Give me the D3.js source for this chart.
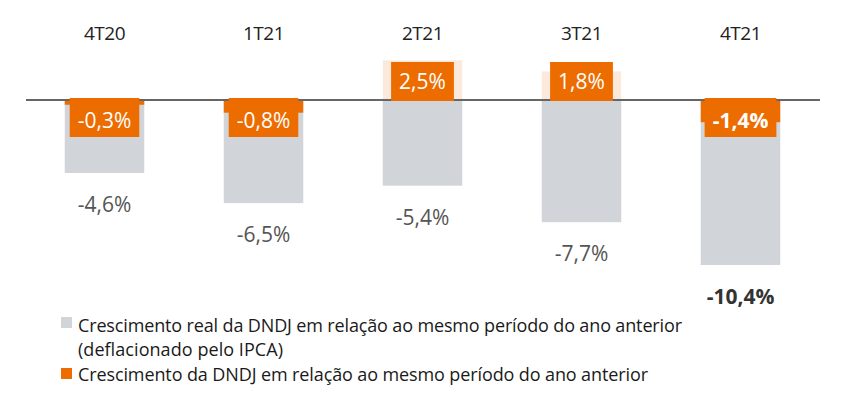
<!DOCTYPE html>
<html>
<head>
<meta charset="utf-8">
<script src="https://cdn.jsdelivr.net/npm/d3@7"></script>
<style>
  body { margin: 0; background: #fff; }
  text { font-family: "Open Sans", sans-serif; }
</style>
</head>
<body>
<svg id="viz" width="843" height="399"></svg>
<script>
// quarters and the two series (% growth)
const quarters = ["4T20", "1T21", "2T21", "3T21", "4T21"];
const realGrowth = [-4.6, -6.5, -5.4, -7.7, -10.4];
const nominalGrowth = [-0.3, -0.8, 2.5, 1.8, -1.4];
const legendLines = [
  "Crescimento real da DNDJ em relação ao mesmo período do ano anterior",
  "(deflacionado pelo IPCA)",
  "Crescimento da DNDJ em relação ao mesmo período do ano anterior"
];

const ORANGE = "#ec6c00", GRAY = "#d1d4d9";
const svg = d3.select("#viz");
const fmt = (v) => d3.format(".1f")(v).replace(".", ",").replace("−", "-") + "%";

const x = d3.scaleBand().domain(quarters).range([25, 820]).paddingInner(0.5).paddingOuter(0.25);
const y = d3.scaleLinear().domain([0, -10.4]).range([100, 265]);

const data = quarters.map((q, i) => ({ q, real: realGrowth[i], nom: nominalGrowth[i], last: i === quarters.length - 1 }));

// gray bars
svg.selectAll(".bar").data(data).enter().append("rect")
  .attr("x", d => x(d.q))
  .attr("width", x.bandwidth())
  .attr("y", y(0))
  .attr("height", d => y(d.real) - y(0))
  .attr("fill", GRAY);

// orange bars (to scale)
svg.selectAll(".nbar").data(data).enter().append("rect")
  .attr("x", d => x(d.q))
  .attr("width", x.bandwidth())
  .attr("y", d => Math.min(y(0), y(d.nom)))
  .attr("height", d => Math.abs(y(d.nom) - y(0)))
  .attr("fill", d => d.nom > 0 ? "#fbeadc" : ORANGE);

// baseline
svg.append("line")
  .attr("x1", 26).attr("x2", 820)
  .attr("y1", y(0)).attr("y2", y(0))
  .attr("stroke", "#666").attr("stroke-width", 2);

// category labels on top
svg.selectAll(".cat").data(data).enter().append("text")
  .attr("x", d => x(d.q) + x.bandwidth() / 2)
  .attr("y", 40)
  .attr("text-anchor", "middle")
  .style("font-size", "19px")
  .style("letter-spacing", "-0.5px")
  .style("fill", "#222")
  .text(d => d.q);

// gray value labels below bars
svg.selectAll(".rl").data(data).enter().append("text")
  .attr("x", d => x(d.q) + x.bandwidth() / 2)
  .attr("y", d => y(d.real) + 39)
  .attr("text-anchor", "middle")
  .style("font-size", "21px")
  .style("font-weight", d => d.last ? "bold" : "normal")
  .style("fill", d => d.last ? "#333" : "#555")
  .text(d => fmt(d.real));

// orange label boxes
const boxes = svg.selectAll(".nl").data(data).enter().append("g");
boxes.append("text")
  .attr("x", d => x(d.q) + x.bandwidth() / 2)
  .attr("y", d => d.nom > 0 ? y(0) - 11 : y(0) + 28)
  .attr("text-anchor", "middle")
  .style("font-size", "21px")
  .style("font-weight", d => d.last ? "bold" : "normal")
  .style("fill", "#fff")
  .text(d => fmt(d.nom));
boxes.each(function (d) {
  const g = d3.select(this);
  const w = g.select("text").node().getBBox().width + 16;
  g.insert("rect", "text")
    .attr("x", x(d.q) + x.bandwidth() / 2 - w / 2)
    .attr("width", w)
    .attr("y", d.nom > 0 ? y(0) - 38 : y(0) - 2)
    .attr("height", 39)
    .attr("fill", ORANGE);
});

// legend
const legendY = [332, 356, 381];
const legendW = [604, 205, 570];
svg.selectAll(".lg").data(legendLines).enter().append("text")
  .attr("x", 78)
  .attr("y", (d, i) => legendY[i])
  .attr("textLength", (d, i) => legendW[i])
  .style("font-size", "18px")
  .style("fill", "#1a1a1a")
  .text(d => d);
svg.append("rect").attr("x", 61).attr("y", 317).attr("width", 11).attr("height", 11).attr("fill", GRAY);
svg.append("rect").attr("x", 61).attr("y", 368).attr("width", 11).attr("height", 11).attr("fill", ORANGE);
</script>
</body>
</html>
